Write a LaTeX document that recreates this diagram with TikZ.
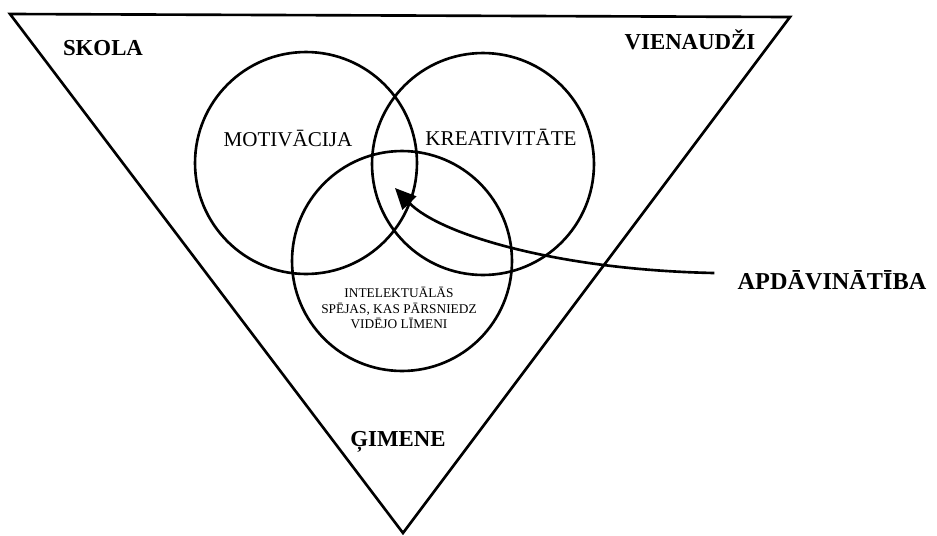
\documentclass[tikz,border=0pt]{standalone}
\usepackage{fontspec}
\setmainfont{Liberation Serif}
\usetikzlibrary{positioning,arrows.meta}

\begin{document}
\begin{tikzpicture}[
  x=0.02cm, y=-0.02cm,
  line width=1.5pt,
  ring/.style={draw, circle, minimum size=4.44cm, inner sep=0pt},
  corner/.style={font=\fontsize{13}{15}\selectfont\bfseries, inner sep=0pt},
  field/.style={font=\fontsize{12}{14}\selectfont, inner sep=0pt},
  small/.style={font=\fontsize{7.6}{9}\selectfont, align=center, inner sep=0pt},
  arr/.style={-{Triangle[length=0.42cm, width=0.38cm]}}
]
  \path[use as bounding box, fill=white] (0,0) rectangle (937,535);

  % Triangle
  \coordinate (tl) at (10,14);
  \coordinate (tr) at (790,17);
  \coordinate (apex) at (403,533);
  \draw[line join=miter] (tl) -- (tr) -- (apex) -- cycle;

  % Circles
  \node[ring] (motiv) at (306,163) {};
  \node[ring] (kreat) at (483,164) {};
  \node[ring, minimum size=4.4cm] (intel) at (402,261) {};

  % Labels
  \node[corner] (skola) at (103,48) {SKOLA};
  \node[corner] (vien) at (690,40) {VIENAUDŽI};
  \node[corner] (gim) at (398,442) {ĢIMENE};
  \node[field] (motivtxt) at (288,138) {MOTIVĀCIJA};
  \node[field] (kreattxt) at (501,137) {KREATIVITĀTE};
  \node[small] (inteltxt) at (399,308) {INTELEKTUĀLĀS\\SPĒJAS, KAS PĀRSNIEDZ\\VIDĒJO LĪMENI};
  \node[corner, font=\fontsize{13.8}{16}\selectfont\bfseries] (apd) at (832,280) {APDĀVINĀTĪBA};

  % Arrow
  \coordinate (tip) at (395,188);
  \draw[arr] ([xshift=-0.44cm, yshift=0.14cm]apd.west) .. controls (560,270) and (440,235) .. (tip);
\end{tikzpicture}
\end{document}
